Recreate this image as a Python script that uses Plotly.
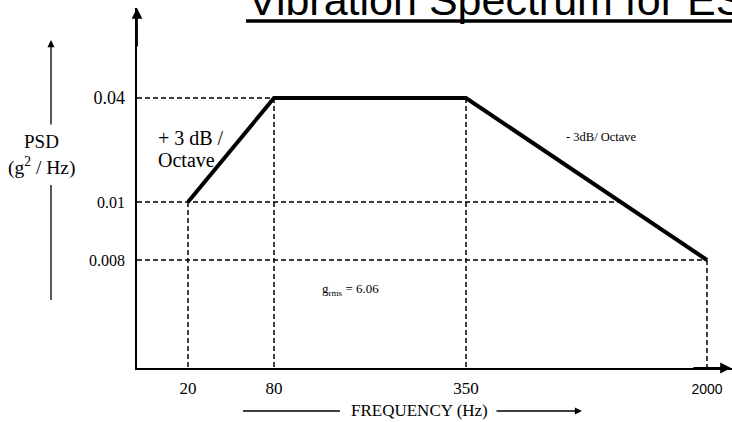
import plotly.graph_objects as go

# ---- data (read from the schematic) ----
freq_hz = [20, 80, 350, 2000]
psd_g2hz = [0.01, 0.04, 0.04, 0.008]

# The drawing uses a schematic (not-to-scale) axis: each labelled value sits at
# its own place along the axis.  These arrays define that axis scale.
freq_ticks = [20, 80, 350, 2000]
freq_tick_labels = ["20", "80", "350", '<span style="font-family:Liberation Sans;font-size:14px">2000</span>']
freq_axis_units = [0.51, 1.37, 3.29, 5.70]

psd_ticks = [0.008, 0.01, 0.04]
psd_tick_labels = ["0.008", "0.01", '<span style="font-size:18px">0.04</span>']
psd_axis_units = [1.08, 1.66, 2.70]

grms = 6.06
title_text = "Vibration Spectrum for ESS"

# ---- mapping through the schematic scale ----
fx = dict(zip(freq_ticks, freq_axis_units))
fy = dict(zip(psd_ticks, psd_axis_units))
xs = [fx[f] for f in freq_hz]
ys = [fy[p] for p in psd_g2hz]

W, H = 732, 422
L, R, T, B = 137, 0, 8, 54
X_RANGE = [0, 5.95]
Y_RANGE = [0, 3.60]


def px_x(px):
    return (px - L) / (W - L - R)


def px_y(py):
    return (H - B - py) / (H - B - T)


fig = go.Figure()

dash_style = dict(color="black", width=1.5, dash="5px,3px")

# horizontal dashed guide lines: from axis to the rightmost point of the curve at that level
for p in psd_ticks:
    yv = fy[p]
    xr = None
    for i in range(len(xs) - 1):
        y0, y1 = ys[i], ys[i + 1]
        if min(y0, y1) <= yv <= max(y0, y1):
            if y1 == y0:
                cand = xs[i + 1]
            else:
                cand = xs[i] + (yv - y0) / (y1 - y0) * (xs[i + 1] - xs[i])
            xr = cand if xr is None else max(xr, cand)
    fig.add_trace(go.Scatter(x=[0, xr], y=[yv, yv], mode="lines", line=dash_style,
                             hoverinfo="skip", showlegend=False))

# vertical dashed guide lines
for xv, yv in zip(xs, ys):
    fig.add_trace(go.Scatter(x=[xv, xv], y=[yv, 0], mode="lines", line=dash_style,
                             hoverinfo="skip", showlegend=False))

# the PSD profile
fig.add_trace(go.Scatter(x=xs, y=ys, mode="lines", line=dict(color="black", width=4),
                         showlegend=False, hoverinfo="skip"))

serif = "Liberation Serif"


def label(px, py, text, size, family=serif):
    return dict(x=px_x(px), y=px_y(py), xref="paper", yref="paper", text=text,
                xanchor="center", yanchor="middle", showarrow=False,
                font=dict(family=family, size=size, color="black"))


ann = []
# axis arrowheads
ann.append(dict(x=X_RANGE[1] - 0.01, y=0, ax=X_RANGE[1] - 0.4, ay=0, xref="x", yref="y",
                axref="x", ayref="y", text="", showarrow=True, arrowhead=2, arrowsize=1.2,
                arrowwidth=1.8, arrowcolor="black"))
ann.append(dict(x=0, y=Y_RANGE[1], ax=0, ay=Y_RANGE[1] - 0.4, xref="x", yref="y",
                axref="x", ayref="y", text="", showarrow=True, arrowhead=2, arrowsize=1.2,
                arrowwidth=1.8, arrowcolor="black"))
# title
ann.append(dict(x=px_x(246), y=px_y(0), xref="paper", yref="paper", xanchor="left",
                yanchor="middle", text=title_text, showarrow=False,
                font=dict(family="Liberation Sans", size=43, color="black")))
# y title
ann.append(label(41, 141, "PSD", 19))
ann.append(label(41, 166, "(g<sup>2</sup> / Hz)", 19.5))
# left PSD arrow
ann.append(dict(x=px_x(51), y=px_y(40), xref="paper", yref="paper", ax=0, ay=86,
                text="", showarrow=True, arrowhead=2, arrowsize=1.1, arrowwidth=1.3,
                arrowcolor="black"))
# x title
ann.append(label(419, 410, "FREQUENCY (Hz)", 17))
ann.append(dict(x=px_x(582), y=px_y(411), xref="paper", yref="paper", ax=-87, ay=0,
                text="", showarrow=True, arrowhead=2, arrowsize=1.1, arrowwidth=1.3,
                arrowcolor="black"))
# slope notes
ann.append(label(191, 138, "+ 3 dB /", 20))
ann.append(label(186, 160, "Octave", 20))
ann.append(label(601, 137, "- 3dB/ Octave", 12.5))
ann.append(label(350, 289, f"g<sub>rms</sub> = {grms:.2f}", 13))

shapes = [
    # title underline
    dict(type="line", xref="paper", yref="paper", x0=px_x(246), x1=px_x(740),
         y0=px_y(21), y1=px_y(21), line=dict(color="black", width=3.5)),
    # lower part of left PSD arrow
    dict(type="line", xref="paper", yref="paper", x0=px_x(51), x1=px_x(51),
         y0=px_y(185), y1=px_y(300), line=dict(color="black", width=1.3)),
    # left part of FREQUENCY arrow
    dict(type="line", xref="paper", yref="paper", x0=px_x(243), x1=px_x(340),
         y0=px_y(411), y1=px_y(411), line=dict(color="black", width=1.3)),
]

fig.update_layout(
    width=W, height=H,
    margin=dict(l=L, r=R, t=T, b=B),
    paper_bgcolor="white", plot_bgcolor="white",
    annotations=ann, shapes=shapes,
    xaxis=dict(range=X_RANGE, showgrid=False, zeroline=False, showline=True,
               linecolor="black", linewidth=1.8, tickvals=freq_axis_units,
               ticktext=freq_tick_labels, ticks="", ticklabelstandoff=4,
               tickfont=dict(family=serif, size=17, color="black"), fixedrange=True),
    yaxis=dict(range=Y_RANGE, showgrid=False, zeroline=False, showline=True,
               linecolor="black", linewidth=1.8, tickvals=psd_axis_units,
               ticktext=psd_tick_labels, ticks="", ticklabelstandoff=7,
               tickfont=dict(family=serif, size=16, color="black"), fixedrange=True),
    showlegend=False,
)

fig.write_html("out.html")
